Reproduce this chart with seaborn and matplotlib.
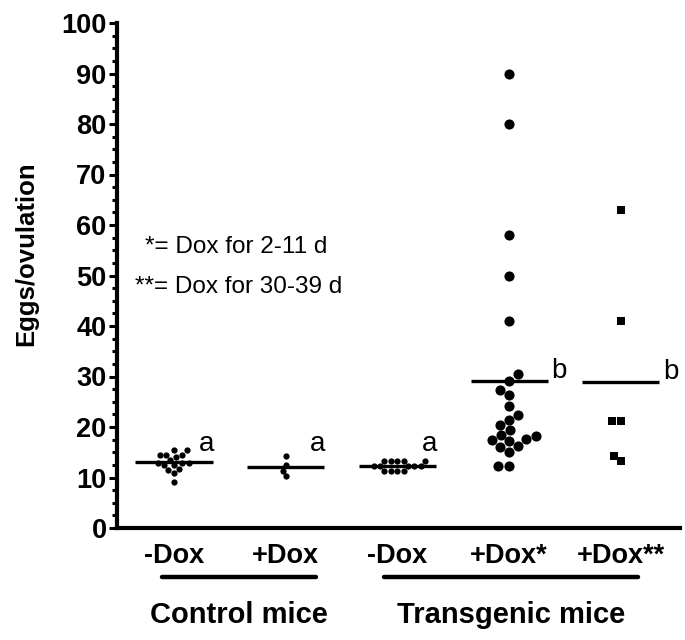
import numpy as np
import pandas as pd
import matplotlib
matplotlib.use("Agg")
import matplotlib.pyplot as plt
from matplotlib.ticker import MultipleLocator
from matplotlib.transforms import blended_transform_factory
import seaborn as sns

# ---------------- data ----------------
group_keys = ["ctrl_minus", "ctrl_plus", "tg_minus", "tg_dox_short", "tg_dox_long"]
tick_labels = ["-Dox", "+Dox", "-Dox", "+Dox*", "+Dox**"]

ctrl_minus = [15.4, 15.4, 14.5, 14.5, 14.5, 14.1, 13.5, 12.8, 12.8, 12.8,
              12.5, 12.5, 11.7, 11.5, 10.9, 9.2]
ctrl_plus = [14.3, 12.5, 11.3, 10.2]
tg_minus = [13.3, 13.3, 13.3, 13.3, 13.3, 12.3, 12.3, 12.3, 12.3, 12.3,
            11.3, 11.3, 11.3, 11.3]
tg_dox_short = [90, 80, 58, 50, 41, 30.4, 29.2, 27.3, 26.3, 24.2, 22.3, 21.4,
                20.4, 19.4, 18.4, 18.2, 17.6, 17.4, 17.2, 16.2, 16.1, 15.1,
                12.3, 12.3]
tg_dox_long = [63, 41, 21.2, 21.2, 14.3, 13.3]

sig_letters = ["a", "a", "a", "b", "b"]
group_names = ["Control mice", "Transgenic mice"]
group_spans = [(0, 1), (2, 4)]
note_lines = ["*= Dox for 2-11 d", "**= Dox for 30-39 d"]

series = [ctrl_minus, ctrl_plus, tg_minus, tg_dox_short, tg_dox_long]
df = pd.DataFrame({
    "group": np.concatenate([[k] * len(v) for k, v in zip(group_keys, series)]),
    "value": np.concatenate(series),
})

# ---------------- style ----------------
sns.set_style("ticks")
plt.rcParams["font.family"] = ["Liberation Sans", "DejaVu Sans"]
plt.rcParams["text.color"] = "black"
plt.rcParams["axes.labelcolor"] = "black"
plt.rcParams["xtick.color"] = "black"
plt.rcParams["ytick.color"] = "black"

fig = plt.figure(figsize=(6.85, 6.4), dpi=100)
ax = fig.add_axes([117 / 685, 112 / 640, 563 / 685, 505 / 640])

marker_style = {
    "ctrl_minus": ("o", 4.5),
    "ctrl_plus": ("o", 4.5),
    "tg_minus": ("o", 4.5),
    "tg_dox_short": ("o", 7.3),
    "tg_dox_long": ("s", 6.0),
}
for key in group_keys:
    m, s = marker_style[key]
    sns.swarmplot(data=df[df["group"] == key], x="group", y="value",
                  order=group_keys, color="black", marker=m, size=s,
                  linewidth=0, ax=ax)

# mean lines
means = df.groupby("group")["value"].mean().reindex(group_keys)
for i, key in enumerate(group_keys):
    ax.hlines(means[key], i - 0.345, i + 0.345, color="black", lw=2.4, zorder=5)

# significance letters
for i, (key, let) in enumerate(zip(group_keys, sig_letters)):
    if let == "a":
        ax.text(i + 0.22, 15.2, let, fontsize=20, ha="left", va="baseline")
    else:
        ax.text(i + 0.38, means[key] + 0.6, let, fontsize=20, ha="left", va="baseline")

# notes
ax.text(-0.26, 54.4, note_lines[0], fontsize=17.5, ha="left", va="baseline")
ax.text(-0.35, 46.6, note_lines[1], fontsize=17.5, ha="left", va="baseline")

# axes
ax.set_xlim(-0.51, 4.53)
ax.set_ylim(0, 100)
ax.yaxis.set_major_locator(MultipleLocator(10))
ax.yaxis.set_minor_locator(MultipleLocator(2.5))
ax.set_xticks(range(len(group_keys)))
ax.set_xticklabels(tick_labels, fontsize=19.5, fontweight="bold")
for lab in ax.get_yticklabels():
    lab.set_fontweight("bold")
    lab.set_fontsize(19.5)
ax.tick_params(axis="x", length=0, pad=11)
ax.tick_params(axis="y", which="major", length=6, width=2.2, pad=1.5, color="black")
ax.tick_params(axis="y", which="minor", length=3.8, width=2.2, color="black")
ax.set_xlabel("")
ax.set_ylabel("Eggs/ovulation", fontsize=18.5, fontweight="bold")
ax.yaxis.set_label_coords(-0.14, 0.543)
for side in ["top", "right"]:
    ax.spines[side].set_visible(False)
for side in ["left", "bottom"]:
    ax.spines[side].set_linewidth(3)
    ax.spines[side].set_color("black")

# group brackets
trans = blended_transform_factory(ax.transData, ax.transAxes)
for (a, b), name in zip(group_spans, group_names):
    x0 = a - 0.11 if a == 0 else a - 0.12
    x1 = b + 0.27 if b == 1 else b + 0.15
    ax.plot([x0, x1], [-0.097, -0.097], transform=trans, color="black",
            lw=3.2, solid_capstyle="round", clip_on=False)
    ax.text((x0 + x1) / 2, -0.172, name, transform=trans, fontsize=21,
            fontweight="bold", ha="center", va="center")

fig.savefig("out.png", dpi=100)
